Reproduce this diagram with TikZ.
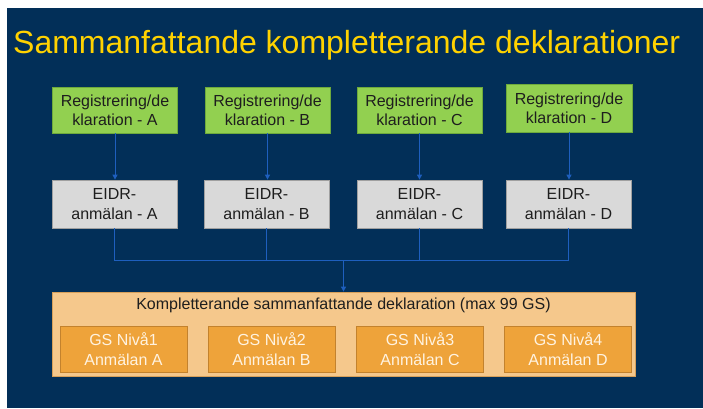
\documentclass[tikz,border=0pt]{standalone}
\usepackage{fontspec}
\setmainfont{Liberation Sans}
\usetikzlibrary{arrows.meta}
\definecolor{navy}{RGB}{2,47,88}
\definecolor{titleyellow}{RGB}{255,210,0}
\definecolor{greenfill}{RGB}{146,208,80}
\definecolor{greendraw}{RGB}{110,170,60}
\definecolor{grayfill}{RGB}{217,217,217}
\definecolor{graydraw}{RGB}{160,160,160}
\definecolor{orangelight}{RGB}{245,200,140}
\definecolor{orangelightdraw}{RGB}{215,160,90}
\definecolor{orangefill}{RGB}{238,163,58}
\definecolor{orangedraw}{RGB}{195,130,45}
\definecolor{conncol}{RGB}{30,95,190}
\definecolor{darktext}{RGB}{30,30,30}
\definecolor{lighttext}{RGB}{255,243,225}
\tikzset{
  boxtext/.style={font=\fontsize{16}{19.3}\selectfont, align=center, inner sep=0pt},
  regbox/.style={boxtext, draw=greendraw, fill=greenfill, text=darktext, line width=0.8pt, minimum width=125pt, minimum height=46pt},
  eidrbox/.style={boxtext, draw=graydraw, fill=grayfill, text=darktext, line width=0.8pt, minimum width=125pt, minimum height=48pt},
  outerbox/.style={draw=orangelightdraw, fill=orangelight, line width=0.8pt, minimum width=583pt, minimum height=84pt, inner sep=0pt},
  gsbox/.style={boxtext, draw=orangedraw, fill=orangefill, text=lighttext, line width=0.8pt, minimum width=127pt, minimum height=46pt},
  conn/.style={draw=conncol, line width=1pt},
  arr/.style={conn, -{Triangle[width=5pt,length=5pt]}},
}
\begin{document}
\begin{tikzpicture}[x=1pt,y=-1pt]
\useasboundingbox (0,0) rectangle (703,408);
\fill[white] (0,0) rectangle (703,408);
\fill[navy] (7,8) rectangle (703,408);
\node[anchor=base west, text=titleyellow, font=\fontsize{32}{36}\selectfont, inner sep=0pt] (title) at (13,53) {Sammanfattande kompletterande deklarationer};

\node[regbox] (gA) at (115,110) {Registrering/de\\klaration - A};
\node[regbox] (gB) at (267.5,110) {Registrering/de\\klaration - B};
\node[regbox] (gC) at (419.5,110) {Registrering/de\\klaration - C};
\node[regbox, minimum width=126pt, minimum height=48pt] (gD) at (569,108) {Registrering/de\\klaration - D};

\node[eidrbox] (eA) at (114.5,204) {EIDR-\\anmälan - A};
\node[eidrbox] (eB) at (266.5,204) {EIDR-\\anmälan - B};
\node[eidrbox] (eC) at (419.5,204) {EIDR-\\anmälan - C};
\node[eidrbox] (eD) at (568.5,204) {EIDR-\\anmälan - D};

\node[outerbox] (outer) at (343.5,334) {};
\node[boxtext, text=darktext] (otitle) at (343.5,305) {Kompletterande sammanfattande deklaration (max 99 GS)};

\node[gsbox] (sA) at (123.5,349) {GS Nivå1\\Anmälan A};
\node[gsbox] (sB) at (271.5,349) {GS Nivå2\\Anmälan B};
\node[gsbox] (sC) at (420,349) {GS Nivå3\\Anmälan C};
\node[gsbox] (sD) at (568,349) {GS Nivå4\\Anmälan D};

\draw[arr] (gA.south) -- (gA.south |- eA.north);
\draw[arr] (gB.south) -- (gB.south |- eB.north);
\draw[arr] (gC.south) -- (gC.south |- eC.north);
\draw[arr] (gD.south) -- (gD.south |- eD.north);

\coordinate (bus) at (343.5,260);
\draw[conn] (eA.south) |- (bus);
\draw[conn] (eD.south) |- (bus);
\draw[conn] (eB.south) -- (eB.south |- bus);
\draw[conn] (eC.south) -- (eC.south |- bus);
\draw[arr] (bus) -- (outer.north);
\end{tikzpicture}
\end{document}
